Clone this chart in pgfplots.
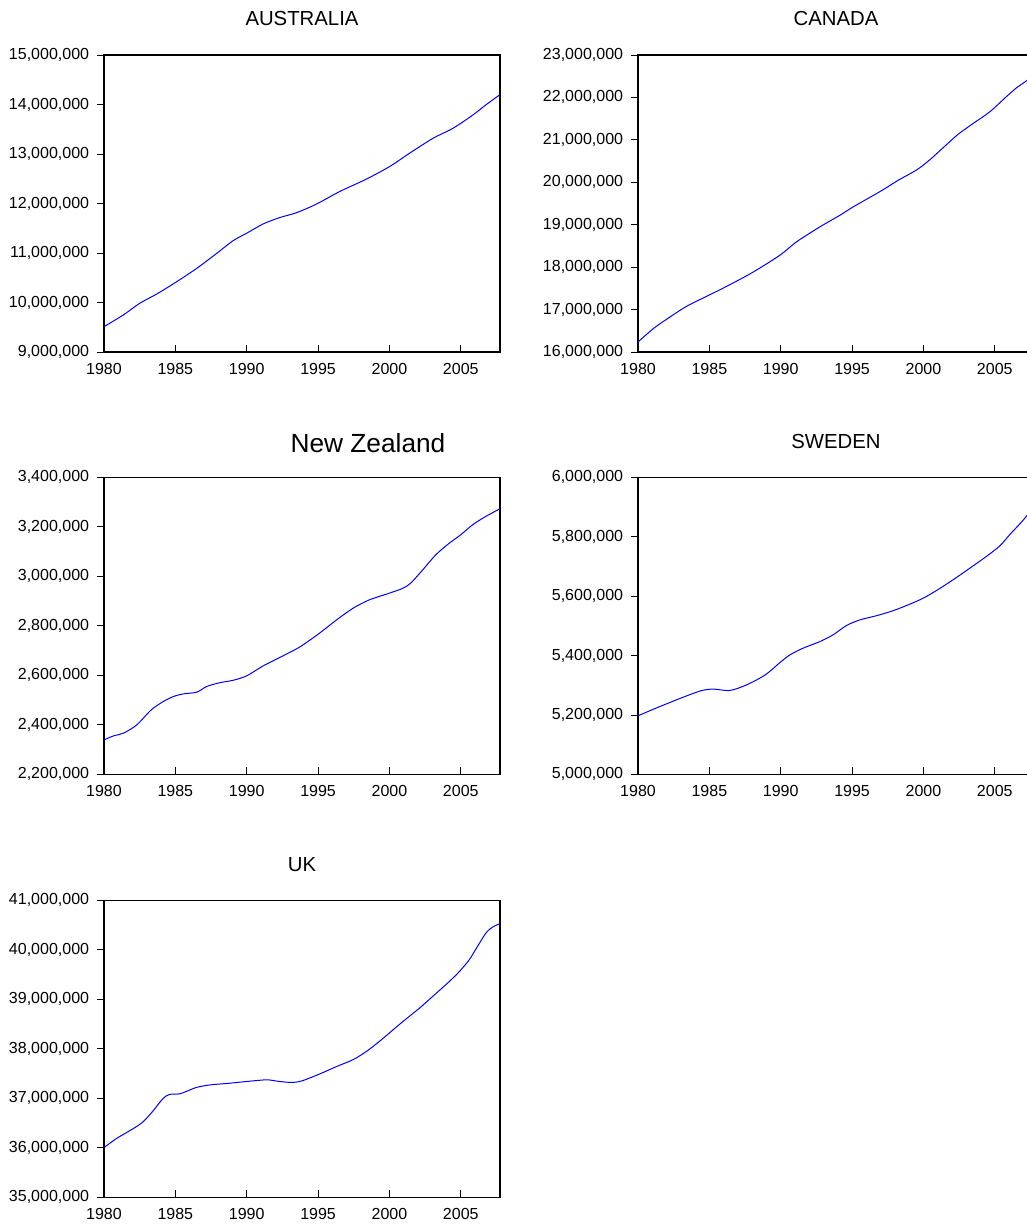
\documentclass[border=0pt]{standalone}
\usepackage{pgfplots}
\pgfplotsset{compat=1.18}
\usepackage{fontspec}
\setmainfont{Liberation Sans}
\pgfplotsset{
 panel/.style={
  scale only axis, width=297pt, height=222.75pt,
  xmin=1980, xmax=2007.75, xtick={1980,1985,...,2005},
  axis line style={black, line width=0.8pt},
  xtick pos=bottom, ytick pos=left,
  xtick align=inside, ytick align=outside,
  major tick length=5.25pt,
  tick style={black, line width=0.6pt},
  ticklabel style={font=\fontsize{12}{14}\selectfont},
  /pgf/number format/.cd, fixed, precision=0, 1000 sep={,}, assume math mode=true, /pgfplots/.cd,
  scaled ticks=false,
  xticklabel style={/pgf/number format/1000 sep={}, anchor=north, inner sep=0pt, yshift=-8.25pt},
  yticklabel style={anchor=east, inner sep=0pt, xshift=-5.75pt},
  title style={font=\fontsize{15.25}{18}\selectfont, anchor=base, at={(0.5,1)}, yshift=15.75pt},
  every axis plot/.append style={blue, line width=0.75pt, smooth, no markers},
 }
}
\begin{document}
\begin{tikzpicture}
% AUSTRALIA
\begin{axis}[panel, at={(78pt,656.25pt)}, anchor=south west, title={AUSTRALIA},
  ymin=9000000, ymax=15000000, ytick={9000000,10000000,...,15000000}]
\addplot coordinates {
(1980.0,9512000) (1981.35,9747000) (1982.5,9983000) (1983.7,10172000) (1985.1,10421000)
(1986.5,10690000) (1987.9,10993000) (1989.05,11249000) (1990.0,11400000) (1991.15,11586000)
(1992.3,11714000) (1993.5,11815000) (1994.9,11990000) (1996.5,12239000) (1998.4,12495000)
(2000.0,12744000) (2001.4,13013000) (2003.05,13316000) (2004.45,13519000) (2005.85,13788000)
(2006.75,13990000) (2007.75,14200000)};
\end{axis}
% CANADA
\begin{axis}[panel, at={(478.5pt,656.25pt)}, anchor=south west, title={CANADA},
  ymin=16000000, ymax=23000000, ytick={16000000,17000000,...,23000000}]
\addplot coordinates {
(1980.0,16234000) (1981.07,16550000) (1982.24,16824000) (1983.4,17076000) (1985.04,17350000)
(1986.44,17587000) (1988.08,17886000) (1989.94,18280000) (1991.1,18594000) (1992.75,18950000)
(1994.15,19223000) (1995.08,19420000) (1996.95,19780000) (1998.3,20060000) (1999.52,20290000)
(2000.45,20530000) (2001.4,20820000) (2002.43,21130000) (2003.5,21390000) (2004.65,21660000)
(2005.82,22020000) (2006.5,22220000) (2007.22,22390000) (2007.75,22530000)};
\end{axis}
% NEW ZEALAND
\begin{axis}[panel, at={(78pt,339.5pt)}, anchor=south west, title={New Zealand},
  title style={font=\fontsize{19.7}{23}\selectfont, xshift=49.5pt, yshift=-3.5pt},
  ymin=2200000, ymax=3400000, ytick={2200000,2400000,...,3400000}]
\addplot coordinates {
(1980.0,2339000) (1980.65,2355000) (1981.35,2366000) (1982.3,2400000) (1983.3,2460000)
(1984.15,2494000) (1984.85,2514000) (1985.55,2525000) (1986.5,2532000) (1987.2,2555000)
(1988.1,2570000) (1989.05,2580000) (1990.0,2598000) (1991.15,2638000) (1992.55,2679000)
(1993.7,2714000) (1995.0,2766000) (1996.3,2824000) (1997.45,2871000) (1998.6,2905000)
(2000.0,2932000) (2000.95,2952000) (2001.5,2973000) (2002.35,3027000) (2003.25,3087000)
(2004.2,3134000) (2005.0,3168000) (2005.85,3209000) (2006.75,3242000) (2007.75,3273000)};
\end{axis}
% SWEDEN
\begin{axis}[panel, at={(478.5pt,339.5pt)}, anchor=south west, title={SWEDEN},
  ymin=5000000, ymax=6000000, ytick={5000000,5200000,...,6000000}]
\addplot coordinates {
(1980.0,5197000) (1981.07,5219000) (1982.24,5242000) (1983.4,5264000) (1984.46,5282000)
(1985.28,5287000) (1986.33,5282000) (1987.14,5292000) (1988.08,5312000) (1989.01,5338000)
(1989.94,5376000) (1990.64,5402000) (1991.58,5425000) (1992.75,5447000) (1993.68,5470000)
(1994.61,5501000) (1995.55,5520000) (1996.71,5534000) (1997.88,5551000) (1999.05,5573000)
(1999.98,5593000) (2000.92,5619000) (2002.08,5655000) (2003.25,5694000) (2004.42,5734000)
(2005.35,5769000) (2006.05,5807000) (2006.75,5843000) (2007.22,5869000) (2007.75,5905000)};
\end{axis}
% UK
\begin{axis}[panel, at={(78pt,22.27pt)}, anchor=south west, title={UK},
  ymin=35000000, ymax=41000000, ytick={35000000,36000000,...,41000000}]
\addplot coordinates {
(1980.0,36004000) (1980.89,36190000) (1982.05,36388000) (1982.75,36529000) (1983.45,36750000)
(1984.15,37000000) (1984.62,37080000) (1985.3,37090000) (1985.78,37140000) (1986.48,37220000)
(1987.42,37270000) (1988.82,37305000) (1990.0,37340000) (1991.15,37370000) (1991.6,37370000)
(1992.3,37340000) (1993.25,37320000) (1993.95,37360000) (1995.1,37490000) (1996.28,37640000)
(1997.45,37780000) (1998.38,37945000) (1999.3,38150000) (2000.0,38320000) (2000.94,38550000)
(2002.1,38820000) (2003.04,39060000) (2004.2,39360000) (2004.9,39560000) (2005.6,39800000)
(2006.07,40020000) (2006.77,40340000) (2007.24,40460000) (2007.75,40530000)};
\end{axis}
\pgfresetboundingbox
\path[use as bounding box] (0,0) rectangle (770.25pt,920.25pt);
\end{tikzpicture}
\end{document}
